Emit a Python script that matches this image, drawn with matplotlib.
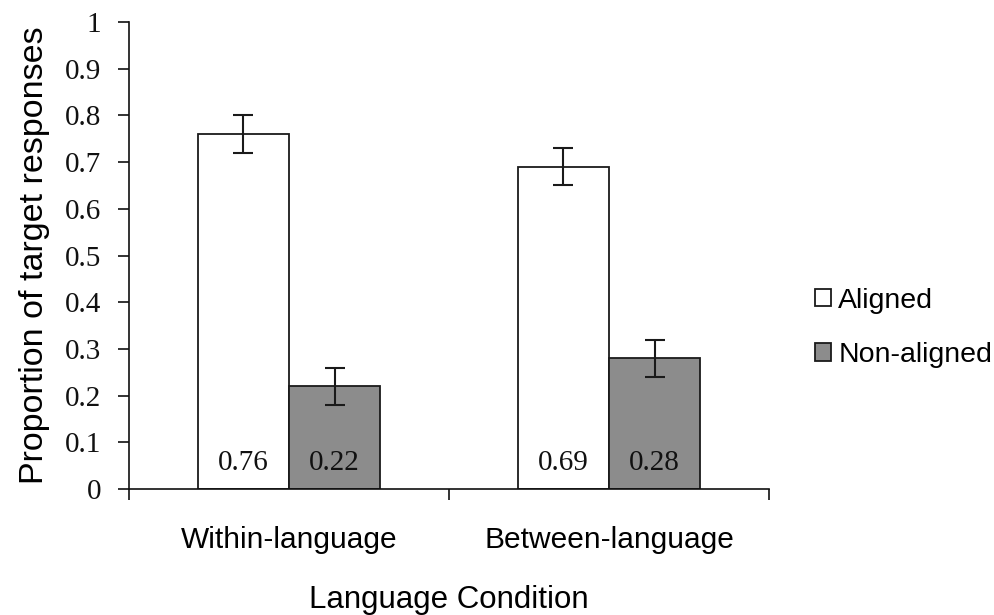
import matplotlib.pyplot as plt
import numpy as np

# dados
condicoes = ["Within-language", "Between-language"]
series = ["Aligned", "Non-aligned"]
aligned = [0.76, 0.69]
non_aligned = [0.22, 0.28]
erro_aligned = [0.04, 0.04]
erro_non_aligned = [0.04, 0.04]
y_ticks = [0, 0.1, 0.2, 0.3, 0.4, 0.5, 0.6, 0.7, 0.8, 0.9, 1]
y_tick_labels = ["0", "0.1", "0.2", "0.3", "0.4", "0.5", "0.6", "0.7", "0.8", "0.9", "1"]

SERIF = "Liberation Serif"
SANS = "Liberation Sans"

fig = plt.figure(figsize=(9.95, 6.15), dpi=100)
ax = fig.add_axes([0.1296, 0.2049, 0.6433, 0.7593])

centros = np.arange(len(condicoes)) + 0.5
largura = 0.285

barras_a = ax.bar(centros - largura / 2, aligned, largura, color="white",
                  edgecolor="#1a1a1a", lw=1.3, label=series[0], zorder=2)
barras_n = ax.bar(centros + largura / 2, non_aligned, largura, color="#8c8c8c",
                  edgecolor="#1a1a1a", lw=1.3, label=series[1], zorder=2)

ax.errorbar(centros - largura / 2, aligned, yerr=erro_aligned, fmt="none",
            ecolor="#1a1a1a", elinewidth=1.5, capsize=7, capthick=1.5, zorder=3)
ax.errorbar(centros + largura / 2, non_aligned, yerr=erro_non_aligned, fmt="none",
            ecolor="#1a1a1a", elinewidth=1.5, capsize=7, capthick=1.5, zorder=3)

# rotulos de valor dentro das barras
for barras, valores in [(barras_a, aligned), (barras_n, non_aligned)]:
    for b, v in zip(barras, valores):
        ax.text(b.get_x() + b.get_width() / 2, 0.056, f"{v:.2f}",
                ha="center", va="center", fontsize=21, family=SERIF, color="#111111")

ax.set_xlim(0, 2)
ax.set_ylim(0, 1)

for s in ["top", "right"]:
    ax.spines[s].set_visible(False)
for s in ["left", "bottom"]:
    ax.spines[s].set_linewidth(1.2)
    ax.spines[s].set_color("#111111")

ax.set_yticks(y_ticks)
ax.set_yticklabels(y_tick_labels, family=SERIF, fontsize=21)
ax.tick_params(axis="y", length=8, width=1.2, pad=12, colors="#111111")

ax.set_xticks([0, 1, 2])
ax.set_xticklabels([])
ax.tick_params(axis="x", which="major", length=8, width=1.2, colors="#111111")
ax.set_xticks(centros, minor=True)
ax.set_xticklabels(condicoes, minor=True, family=SANS, fontsize=21.5)
ax.tick_params(axis="x", which="minor", length=0, pad=27)

ax.set_ylabel("Proportion of target responses", family=SANS, fontsize=24.5, labelpad=11)
ax.set_xlabel("Language Condition", family=SANS, fontsize=22.5, labelpad=22)

leg = fig.legend(loc="center left", bbox_to_anchor=(0.808, 0.467), frameon=False,
                 handlelength=0.55, handleheight=0.55, handletextpad=0.25,
                 labelspacing=1.0, borderaxespad=0,
                 prop={"family": SANS, "size": 20.5})

fig.savefig("out.png", dpi=100)
